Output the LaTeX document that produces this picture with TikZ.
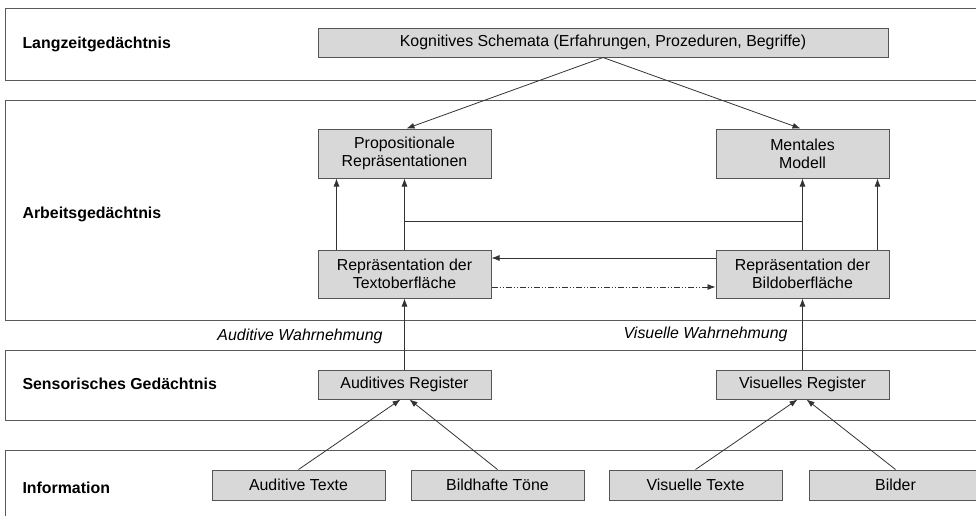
\documentclass[tikz,border=0pt]{standalone}
\usepackage{fontspec}
\setmainfont{Liberation Sans}
\usetikzlibrary{arrows.meta,calc}
\definecolor{boxfill}{HTML}{D8D8D8}
\definecolor{boxline}{HTML}{555555}
\definecolor{bandline}{HTML}{5A5A5A}
\definecolor{conn}{HTML}{333333}
\begin{document}
\begin{tikzpicture}[x=1pt,y=-1pt,
  font=\fontsize{15.9}{18}\selectfont,
  band/.style={draw=bandline,line width=1pt},
  gbox/.style={draw=boxline,fill=boxfill,line width=1pt,minimum width=173pt,inner sep=0pt,align=center,text=black},
  blabel/.style={anchor=west,font=\fontsize{15.9}{18}\selectfont\bfseries},
  plabel/.style={anchor=east,font=\fontsize{15.9}{18}\selectfont\itshape},
  conn/.style={draw=conn,line width=0.8pt},
  arr/.style={conn,-{Latex[length=8pt,width=6pt]}}]
\useasboundingbox (0,0) rectangle (976,515);
\clip (0,0) rectangle (976,515);
% bands
\draw[band] (5,8) rectangle (995,80);
\draw[band] (5,100) rectangle (995,320);
\draw[band] (5,350) rectangle (995,420);
\draw[band] (5,450) rectangle (995,540);
% band labels
\node[blabel] (l1) at (19,44) {Langzeitgedächtnis};
\node[blabel] (l2) at (19,214) {Arbeitsgedächtnis};
\node[blabel] (l3) at (19,384) {Sensorisches Gedächtnis};
\node[blabel] (l4) at (19,488) {Information};
% boxes
\node[gbox,minimum width=570pt,minimum height=29pt] (kog) at (603,42.5) {Kognitives Schemata (Erfahrungen, Prozeduren, Begriffe)};
\node[gbox,minimum height=49pt] (prop) at (404.5,153.5) {Propositionale\\Repräsentationen};
\node[gbox,minimum height=49pt] (ment) at (802.5,153.5) {Mentales\\Modell};
\node[gbox,minimum height=48pt] (text) at (404.5,274) {Repräsentation der\\Textoberfläche};
\node[gbox,minimum height=48pt] (bild) at (802.5,274) {Repräsentation der\\Bildoberfläche};
\node[gbox,minimum height=29pt] (aureg) at (404.5,384.5) {Auditives Register};
\node[gbox,minimum height=29pt] (vireg) at (802.5,384.5) {Visuelles Register};
\node[gbox,minimum height=30pt] (autx) at (298.5,485) {Auditive Texte};
\node[gbox,minimum height=30pt] (bton) at (497.5,485) {Bildhafte Töne};
\node[gbox,minimum height=30pt] (vitx) at (695.5,485) {Visuelle Texte};
\node[gbox,minimum height=30pt] (bild2) at (895.5,485) {Bilder};
% perception labels
\node[plabel] (aw) at (386,336) {Auditive Wahrnehmung};
\node[plabel] (vw) at (791,334) {Visuelle Wahrnehmung};
% connectors
\draw[arr] (kog.south) -- ([xshift=2pt]prop.north);
\draw[arr] (kog.south) -- ([xshift=-2pt]ment.north);
\draw[arr] ([xshift=19pt]text.north west) -- ([xshift=19pt]prop.south west);
\draw[arr] (text.north) -- (prop.south);
\draw[arr] (bild.north) -- (ment.north |- prop.south);
\draw[arr] ([xshift=-12pt]bild.north east) -- ([xshift=-12pt]ment.south east);
\coordinate (hl) at (text.north |- 0,221);
\coordinate (hr) at (bild.north |- 0,221);
\draw[conn] (hl) -- (hr);
\draw[arr] ([yshift=16pt]bild.west) -- ([yshift=16pt]text.east);
\draw[arr,dash pattern=on 6pt off 2pt on 1pt off 2pt on 1pt off 2pt] ([yshift=-13pt]text.east) -- ([yshift=-13pt]bild.west);
\draw[arr] (aureg.north) -- (text.south);
\draw[arr] (vireg.north) -- (bild.south);
\draw[arr] (autx.north) -- ([xshift=-4pt]aureg.south);
\draw[arr] (bton.north) -- ([xshift=5pt]aureg.south);
\draw[arr] (vitx.north) -- ([xshift=-5pt]vireg.south);
\draw[arr] (bild2.north) -- ([xshift=4pt]vireg.south);
\end{tikzpicture}
\end{document}
